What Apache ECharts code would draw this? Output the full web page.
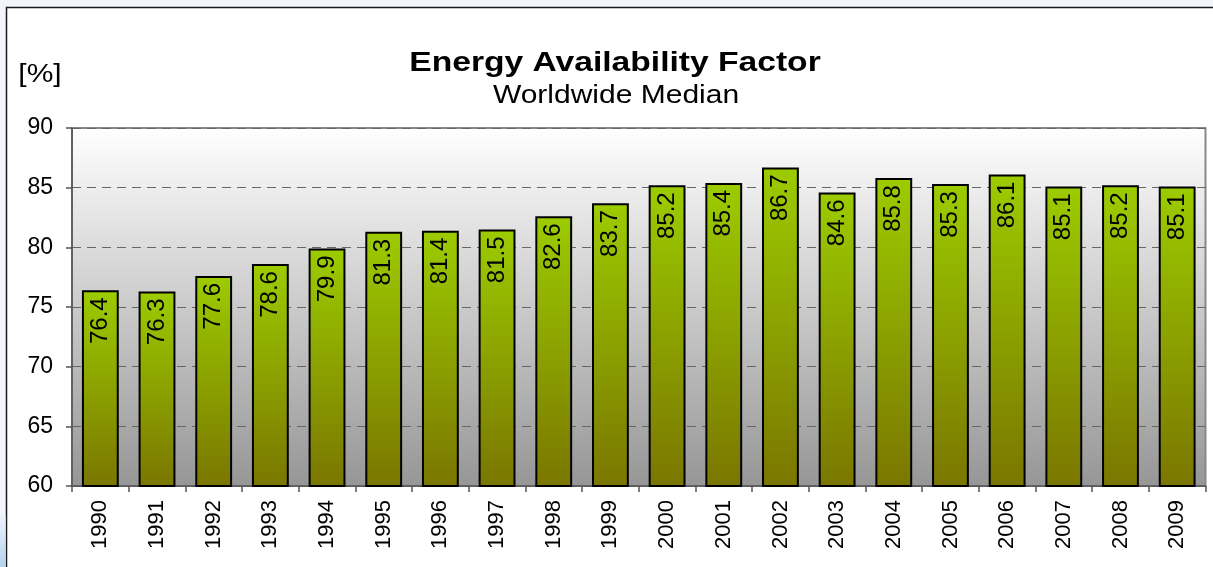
<!DOCTYPE html>
<html>
<head>
<meta charset="utf-8">
<script src="https://cdn.jsdelivr.net/npm/echarts@6/dist/echarts.min.js"></script>
<style>
html,body{margin:0;padding:0;background:#f2f5fa;}
#c{width:1213px;height:567px;}
</style>
</head>
<body>
<div id="c"></div>
<script>
const years = ['1990','1991','1992','1993','1994','1995','1996','1997','1998','1999','2000','2001','2002','2003','2004','2005','2006','2007','2008','2009'];
const availability = [76.4,76.3,77.6,78.6,79.9,81.3,81.4,81.5,82.6,83.7,85.2,85.4,86.7,84.6,85.8,85.3,86.1,85.1,85.2,85.1];
const titleText = 'Energy Availability Factor';
const subtitleText = 'Worldwide Median';
const unitText = '[%]';
const yMin = 60, yMax = 90, yStep = 5;

const FONT = '"Liberation Sans", Arial, sans-serif';
const chart = echarts.init(document.getElementById('c'), null, {renderer:'canvas'});
chart.setOption({
  backgroundColor: '#f2f5fa',
  animation: false,
  graphic: [
    {type:'rect', z:-10, shape:{x:6.5,y:7.5,width:1300,height:700}, style:{fill:'#ffffff', stroke:'#1a1a1a', lineWidth:1.5}},
    {type:'rect', z:-10, shape:{x:0,y:515,width:5.5,height:52}, style:{fill:new echarts.graphic.LinearGradient(0,0,0,1,[{offset:0,color:'#eef3fa'},{offset:1,color:'#b5d2ee'}])}},
    {type:'text', x:615, y:63, scaleX:1.2, style:{text:titleText, font:'bold 28px '+FONT, fill:'#000', textAlign:'center', textVerticalAlign:'middle'}},
    {type:'text', x:616, y:96, scaleX:1.2, style:{text:subtitleText, font:'25px '+FONT, fill:'#000', textAlign:'center', textVerticalAlign:'middle'}},
    {type:'text', x:40, y:75, scaleX:1.2, style:{text:unitText, font:'25px '+FONT, fill:'#000', textAlign:'center', textVerticalAlign:'middle'}}
  ],
  grid: {
    left: 72, top: 128, right: 7.5, bottom: 81,
    show: true,
    backgroundColor: new echarts.graphic.LinearGradient(0,0,0,1,[{offset:0,color:'#ffffff'},{offset:1,color:'#969696'}]),
    borderColor: '#888888', borderWidth: 2
  },
  xAxis: {
    type: 'category',
    data: years,
    axisLine: {show:true, lineStyle:{color:'#555', width:1.5}},
    axisTick: {show:true, length:6, lineStyle:{color:'#555', width:1.5}},
    axisLabel: {rotate:90, fontSize:22, fontFamily:FONT, color:'#000', margin:14, interval:0}
  },
  yAxis: {
    type: 'value',
    min: yMin, max: yMax, interval: yStep,
    axisLine: {show:true, lineStyle:{color:'#555', width:1.5}},
    axisTick: {show:true, length:6, lineStyle:{color:'#555', width:1.5}},
    axisLabel: {fontSize:23, fontFamily:FONT, color:'#000', margin:19},
    splitLine: {show:true, lineStyle:{color:'#666', width:1, type:[9,6]}}
  },
  series: [{
    type: 'bar',
    data: availability,
    barWidth: '65%',
    itemStyle: {
      color: new echarts.graphic.LinearGradient(0,0,0,1,[{offset:0,color:'#9ccc00'},{offset:1,color:'#7a7600'}]),
      borderColor: '#000', borderWidth: 2
    },
    label: {
      show: true, position: 'insideTop', rotate: 90, align: 'right', verticalAlign: 'middle',
      distance: 7, fontSize: 24, fontFamily: FONT, color: '#000',
      formatter: p => p.value.toFixed(1)
    }
  }]
});
</script>
</body>
</html>
